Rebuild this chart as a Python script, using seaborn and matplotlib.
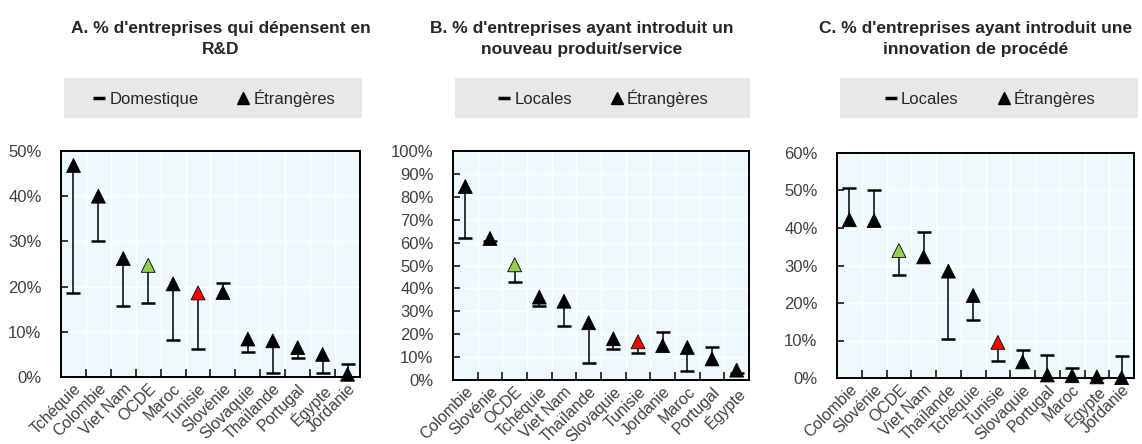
import matplotlib
matplotlib.use("Agg")
import numpy as np
import pandas as pd
import matplotlib.pyplot as plt
import seaborn as sns
from matplotlib.lines import Line2D
from matplotlib.patches import Rectangle
from matplotlib.ticker import PercentFormatter, FixedLocator

# ===== données =====
titres = [
    "A. % d'entreprises qui dépensent en\nR&D",
    "B. % d'entreprises ayant introduit un\nnouveau produit/service",
    "C. % d'entreprises ayant introduit une\ninnovation de procédé",
]
legende_dom = ["Domestique", "Locales", "Locales"]

pays_a = ["Tchéquie", "Colombie", "Viet Nam", "OCDE", "Maroc", "Tunisie", "Slovénie",
          "Slovaquie", "Thaïlande", "Portugal", "Égypte", "Jordanie"]
etr_a = [46.8, 40.0, 26.2, 24.7, 20.6, 18.6, 18.7, 8.4, 8.0, 6.5, 5.0, 0.6]
dom_a = [18.6, 30.0, 15.8, 16.4, 8.1, 6.1, 20.9, 5.5, 0.9, 4.1, 0.9, 2.9]

pays_b = ["Colombie", "Slovénie", "OCDE", "Tchéquie", "Viet Nam", "Thaïlande", "Slovaquie",
          "Tunisie", "Jordanie", "Maroc", "Portugal", "Égypte"]
etr_b = [84.5, 61.8, 50.3, 36.2, 34.4, 25.0, 18.0, 16.7, 15.0, 14.2, 9.2, 4.3]
dom_b = [62.2, 60.6, 42.6, 32.3, 23.6, 7.3, 13.5, 11.7, 20.8, 4.0, 14.5, 3.1]

pays_c = ["Colombie", "Slovénie", "OCDE", "Viet Nam", "Thaïlande", "Tchéquie", "Tunisie",
          "Slovaquie", "Portugal", "Maroc", "Égypte", "Jordanie"]
etr_c = [42.2, 42.0, 34.0, 32.3, 28.5, 22.0, 9.5, 4.3, 0.8, 0.6, 0.3, 0.1]
dom_c = [50.6, 50.2, 27.6, 38.9, 10.3, 15.4, 4.5, 7.6, 6.1, 2.8, 0.0, 5.9]

ymax = [50, 100, 60]

couleurs = {"OCDE": "#92D050", "Tunisie": "#FF0000"}

# ===== style =====
sns.set_style("ticks")
plt.rcParams["font.family"] = ["Liberation Sans", "DejaVu Sans"]
fond = "#EEF9FD"
gris_txt = "#404040"

fig = plt.figure(figsize=(11.42, 4.44), dpi=100)
W, H = 1142, 444
# positions des axes en pixels (gauche, droite, haut, bas)
boites = [(61, 360, 151, 377), (453, 749, 151, 380), (837, 1134, 153, 378)]
bandeaux = [(64, 362), (455, 750), (840, 1138)]
centres_titre = [221, 582, 976]

panneaux = [(pays_a, etr_a, dom_a), (pays_b, etr_b, dom_b), (pays_c, etr_c, dom_c)]

for k, (pays, etr, dom) in enumerate(panneaux):
    g, d, h, b = boites[k]
    ax = fig.add_axes([g / W, 1 - b / H, (d - g) / W, (b - h) / H])
    ax.set_facecolor(fond)

    df = pd.DataFrame({"pays": pays, "etr": etr, "dom": dom})
    df["pos"] = np.arange(len(df))
    df["coul"] = [couleurs.get(p, "black") for p in pays]

    ax.vlines(df["pos"], df["dom"], df["etr"], color="black", lw=1.1, zorder=3)
    sns.scatterplot(data=df, x="pos", y="dom", marker="_", s=90, color="black",
                    linewidth=1.8, ax=ax, zorder=4, legend=False, clip_on=False)
    sns.scatterplot(data=df, x="pos", y="etr", marker="^", s=100, hue="pays",
                    palette=dict(zip(df["pays"], df["coul"])), edgecolor="black",
                    linewidth=0.6, ax=ax, zorder=5, legend=False, clip_on=False)

    ax.set_xlim(-0.5, len(df) - 0.5)
    ax.set_ylim(0, ymax[k])
    ax.set_xlabel("")
    ax.set_ylabel("")

    ax.set_xticks(df["pos"])
    ax.set_xticklabels(pays, rotation=45, ha="right", rotation_mode="anchor",
                       fontsize=11.5, color=gris_txt)
    ax.tick_params(axis="x", which="major", length=0, pad=3)
    ax.xaxis.set_minor_locator(FixedLocator(np.arange(0.5, len(df) - 0.5, 1)))
    ax.tick_params(axis="x", which="minor", direction="in", length=6, width=1.3)

    ax.set_yticks(np.arange(0, ymax[k] + 1, 10))
    ax.yaxis.set_major_formatter(PercentFormatter(decimals=0))
    ax.tick_params(axis="y", direction="in", length=5, width=1.3, labelsize=12,
                   labelcolor=gris_txt, pad=14)

    ax.grid(axis="y", which="major", color="white", lw=1.0)
    ax.grid(axis="x", which="minor", color="white", lw=1.0)
    ax.set_axisbelow(True)
    for s in ax.spines.values():
        s.set_visible(True)
        s.set_linewidth(1.4)
        s.set_color("black")

    # titre
    fig.text(centres_titre[k] / W, 1 - 39 / H, titres[k], ha="center", va="center",
             fontsize=12.5, fontweight="bold", linespacing=1.55)

    # légende dans un bandeau gris
    bg, bd = bandeaux[k]
    fig.add_artist(Rectangle((bg / W, 1 - 118 / H), (bd - bg) / W, 40 / H,
                             transform=fig.transFigure, facecolor="#E8E8E8",
                             edgecolor="none", zorder=0))
    poignees = [
        Line2D([], [], marker="_", ls="none", color="black", markersize=9, mew=2.5),
        Line2D([], [], marker="^", ls="none", color="black", markersize=9),
    ]
    fig.legend(poignees, [legende_dom[k], "Étrangères"], loc="center",
               bbox_to_anchor=((bg + bd) / 2 / W, 1 - 98 / H), ncol=2, frameon=False,
               handletextpad=0.1, columnspacing=2.2, handlelength=1.0,
               prop={"size": 12})

fig.savefig("out.png", dpi=100)
